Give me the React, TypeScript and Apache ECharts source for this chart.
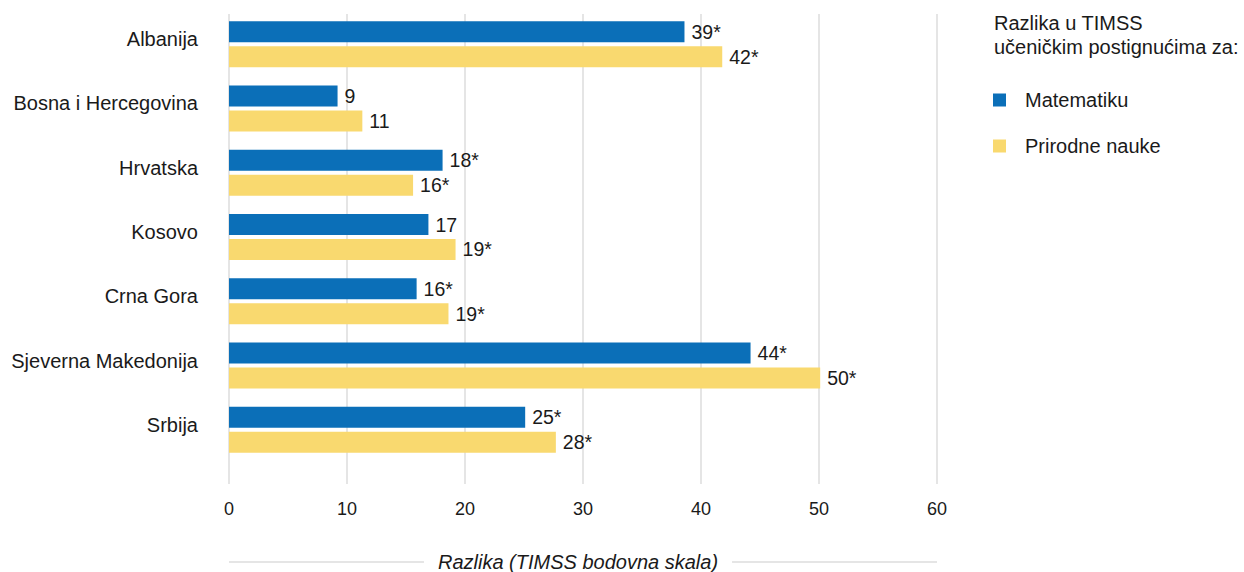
import React, { useEffect, useRef } from "react";
import * as echarts from "echarts";

const categories = [
  "Albanija",
  "Bosna i Hercegovina",
  "Hrvatska",
  "Kosovo",
  "Crna Gora",
  "Sjeverna Makedonija",
  "Srbija",
];
const mathValues = [38.6, 9.2, 18.1, 16.9, 15.9, 44.2, 25.1];
const mathSignificant = [true, false, true, false, true, true, true];
const sciValues = [41.8, 11.3, 15.6, 19.2, 18.6, 50.1, 27.7];
const sciSignificant = [true, false, true, true, true, true, true];
const seriesNames = ["Matematiku", "Prirodne nauke"];
const legendTitle = "Razlika u TIMSS\nučeničkim postignućima za:";
const axisTitle = "Razlika (TIMSS bodovna skala)";
const xTicks = [0, 10, 20, 30, 40, 50, 60];

const FONT = "'Liberation Sans', Arial, sans-serif";
const BLUE = "#0b6fb8";
const YELLOW = "#f9d96f";
const TEXT = "#1a1a1a";

export default function App() {
  const ref = useRef<HTMLDivElement>(null);
  useEffect(() => {
    if (!ref.current) return;
    const chart = echarts.init(ref.current, null, { renderer: "svg" });
    const labelFor = (sig: boolean[]) => (p: any) =>
      String(Math.round(p.value)) + (sig[p.dataIndex] ? "*" : "");
    chart.setOption({
      animation: false,
      textStyle: { fontFamily: FONT, color: TEXT },
      title: {
        text: legendTitle,
        left: 994,
        top: 11,
        padding: 0,
        textStyle: {
          fontFamily: FONT,
          fontSize: 20,
          fontWeight: "normal",
          color: TEXT,
          lineHeight: 24,
        },
      },
      legend: {
        orient: "vertical",
        left: 993,
        top: 89,
        padding: 0,
        itemWidth: 13,
        itemHeight: 13,
        itemGap: 24,
        icon: "rect",
        data: seriesNames,
        textStyle: {
          fontFamily: FONT,
          fontSize: 20,
          color: TEXT,
          lineHeight: 22,
          padding: [0, 0, 0, 14],
        },
      },
      grid: [
        { left: 229, right: 307, top: 12, bottom: 110, containLabel: false },
        { left: 229, right: 307, top: 14, bottom: 88, containLabel: false },
      ],
      xAxis: [
        { gridIndex: 0, type: "value", min: 0, max: 60, show: false },
        {
          gridIndex: 1,
          type: "value",
          min: 0,
          max: 60,
          interval: 10,
          axisLine: { show: false },
          axisTick: { show: false },
          splitLine: { show: true, lineStyle: { color: "#e5e5e5", width: 2 } },
          axisLabel: {
            margin: 16,
            fontSize: 18,
            fontFamily: FONT,
            color: TEXT,
            formatter: (v: number) => (xTicks.includes(v) ? String(v) : ""),
          },
        },
      ],
      yAxis: [
        {
          gridIndex: 0,
          type: "category",
          data: categories,
          inverse: true,
          axisLine: { show: false },
          axisTick: { show: false },
          splitLine: { show: false },
          axisLabel: {
            margin: 31,
            fontSize: 20,
            fontFamily: FONT,
            color: TEXT,
            verticalAlign: "bottom",
            lineHeight: 10,
          },
        },
        { gridIndex: 1, type: "value", show: false, min: 0, max: 1 },
      ],
      graphic: [
        {
          type: "line",
          shape: { x1: 229, y1: 562, x2: 937, y2: 562 },
          style: { stroke: "#e5e5e5", lineWidth: 2 },
          silent: true,
        },
        {
          type: "text",
          x: 578,
          y: 562,
          style: {
            text: axisTitle,
            font: `italic 20px ${FONT}`,
            fill: TEXT,
            textAlign: "center",
            textVerticalAlign: "middle",
            backgroundColor: "#ffffff",
            padding: [0, 14],
          },
          silent: true,
        },
      ],
      series: [
        {
          name: seriesNames[0],
          type: "bar",
          xAxisIndex: 0,
          yAxisIndex: 0,
          data: mathValues,
          barWidth: 21,
          barGap: "19%",
          itemStyle: { color: BLUE },
          label: {
            show: true,
            position: "right",
            distance: 7,
            fontSize: 19.5,
            fontFamily: FONT,
            color: TEXT,
            formatter: labelFor(mathSignificant),
          },
        },
        {
          name: seriesNames[1],
          type: "bar",
          xAxisIndex: 0,
          yAxisIndex: 0,
          data: sciValues,
          barWidth: 21,
          barGap: "19%",
          itemStyle: { color: YELLOW },
          label: {
            show: true,
            position: "right",
            distance: 7,
            fontSize: 19.5,
            fontFamily: FONT,
            color: TEXT,
            formatter: labelFor(sciSignificant),
          },
        },
      ],
    });
    return () => chart.dispose();
  }, []);
  return (
    <div
      ref={ref}
      style={{ position: "absolute", left: 0, top: 0, width: 1244, height: 572 }}
    />
  );
}
